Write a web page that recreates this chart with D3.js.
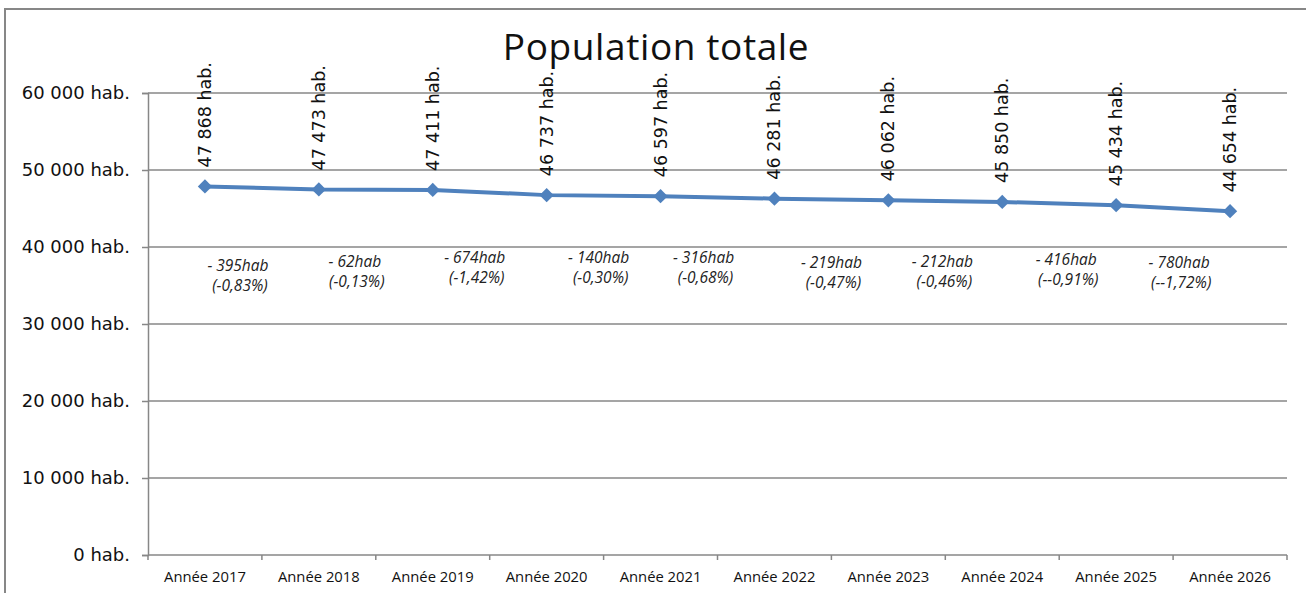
<!DOCTYPE html>
<html lang="fr">
<head>
<meta charset="utf-8">
<title>Population totale</title>
<script src="https://cdn.jsdelivr.net/npm/d3@7"></script>
<style>
  html, body { margin: 0; padding: 0; background: #ffffff; }
  svg { display: block; font-family: "Open Sans", "Noto Sans", sans-serif; }
</style>
</head>
<body>
<svg id="chart" width="1306" height="593"></svg>
<script>
// Population series, one value per year
const years = ["Année 2017", "Année 2018", "Année 2019", "Année 2020", "Année 2021",
               "Année 2022", "Année 2023", "Année 2024", "Année 2025", "Année 2026"];
const population = [47868, 47473, 47411, 46737, 46597, 46281, 46062, 45850, 45434, 44654];

// Year-to-year change annotations (count and percent as printed)
const changeCounts = ["- 395hab", "- 62hab", "- 674hab", "- 140hab", "- 316hab",
                      "- 219hab", "- 212hab", "- 416hab", "- 780hab"];
const changePercents = ["(-0,83%)", "(-0,13%)", "(-1,42%)", "(-0,30%)", "(-0,68%)",
                        "(-0,47%)", "(-0,46%)", "(--0,91%)", "(--1,72%)"];

// Y axis ticks
const yTicks = [0, 10000, 20000, 30000, 40000, 50000, 60000];

// Hand placement of the change annotations (offset from the year's centre)
const changeDx = [33, 36, 42, 52, 43, 57, 54, 64, 63];
const changeDy = [266, 262, 258, 258, 258, 263, 262, 260, 263];

const svg = d3.select("#chart");
const plotLeft = 148, plotRight = 1287, plotTop = 93, plotBottom = 555;
const sansWide = "DejaVu Sans, Verdana, sans-serif";

const fmt = v => d3.format(",")(v).replace(/,/g, " ") + " hab.";

// Outer chart frame
svg.append("rect")
  .attr("x", 5).attr("y", 9)
  .attr("width", 1320).attr("height", 620)
  .attr("fill", "none").attr("stroke", "#878787").attr("stroke-width", 2);

const x = d3.scaleBand().domain(years).range([plotLeft, plotRight]).padding(0);
const y = d3.scaleLinear().domain([0, 60000]).range([plotBottom, plotTop]);

// Horizontal gridlines
svg.append("g")
  .selectAll("line")
  .data(yTicks.filter(d => d > 0))
  .join("line")
  .attr("x1", plotLeft).attr("x2", plotRight)
  .attr("y1", d => y(d)).attr("y2", d => y(d))
  .attr("stroke", "#878787").attr("stroke-width", 1.5);

// Y axis
const yAxis = svg.append("g")
  .attr("transform", `translate(${plotLeft},0)`)
  .call(d3.axisLeft(y).tickValues(yTicks).tickSize(6).tickPadding(12).tickFormat(fmt));
yAxis.select(".domain").attr("stroke", "#878787").attr("stroke-width", 1.5);
yAxis.selectAll(".tick line").attr("stroke", "#878787").attr("stroke-width", 1.5);
yAxis.selectAll(".tick text")
  .attr("font-size", 18).attr("fill", "#111").attr("font-family", sansWide);

// X axis with ticks on category boundaries
const xAxisG = svg.append("g").attr("transform", `translate(0,${plotBottom})`);
xAxisG.append("line")
  .attr("x1", plotLeft).attr("x2", plotRight).attr("y1", 0).attr("y2", 0)
  .attr("stroke", "#878787").attr("stroke-width", 1.5);
xAxisG.selectAll("line.tick")
  .data(d3.range(years.length + 1))
  .join("line")
  .attr("class", "tick")
  .attr("x1", i => plotLeft + i * x.bandwidth()).attr("x2", i => plotLeft + i * x.bandwidth())
  .attr("y1", 0).attr("y2", 5)
  .attr("stroke", "#878787").attr("stroke-width", 1.5);
xAxisG.selectAll("text")
  .data(years)
  .join("text")
  .attr("x", d => x(d) + x.bandwidth() / 2)
  .attr("y", 27)
  .attr("text-anchor", "middle")
  .attr("font-size", 14.8)
  .attr("fill", "#111")
  .text(d => d);

// Title
svg.append("text")
  .attr("x", 656).attr("y", 60)
  .attr("text-anchor", "middle")
  .attr("font-size", 37)
  .attr("font-weight", 500)
  .attr("letter-spacing", 0.6)
  .attr("fill", "#111")
  .text("Population totale");

// Line and markers
const cx = d => x(d) + x.bandwidth() / 2;
const pts = years.map((yr, i) => [cx(yr), y(population[i])]);

svg.append("path")
  .datum(pts)
  .attr("d", d3.line())
  .attr("fill", "none")
  .attr("stroke", "#4F81BD")
  .attr("stroke-width", 4)
  .attr("stroke-linejoin", "round");

svg.append("g")
  .selectAll("path")
  .data(pts)
  .join("path")
  .attr("transform", d => `translate(${d[0]},${d[1]})`)
  .attr("d", d3.symbol(d3.symbolDiamond2, 130))
  .attr("fill", "#4F81BD");

// Rotated value labels above each point
svg.append("g")
  .selectAll("text")
  .data(years)
  .join("text")
  .attr("transform", (d, i) => `translate(${cx(d) + 6},${y(population[i]) - 19}) rotate(-90)`)
  .attr("font-size", 17.5)
  .attr("font-family", sansWide)
  .attr("fill", "#111")
  .text((d, i) => fmt(population[i]));

// Change annotations between consecutive years
const chg = svg.append("g")
  .attr("font-style", "italic")
  .attr("font-size", 15.5)
  .attr("fill", "#222")
  .attr("text-anchor", "middle");
changeCounts.forEach((c, i) => {
  const px = cx(years[i]) + changeDx[i];
  chg.append("text").attr("x", px).attr("y", changeDy[i] + 5).text(c);
  chg.append("text").attr("x", px + 2).attr("y", changeDy[i] + 25).text(changePercents[i]);
});
</script>
</body>
</html>
